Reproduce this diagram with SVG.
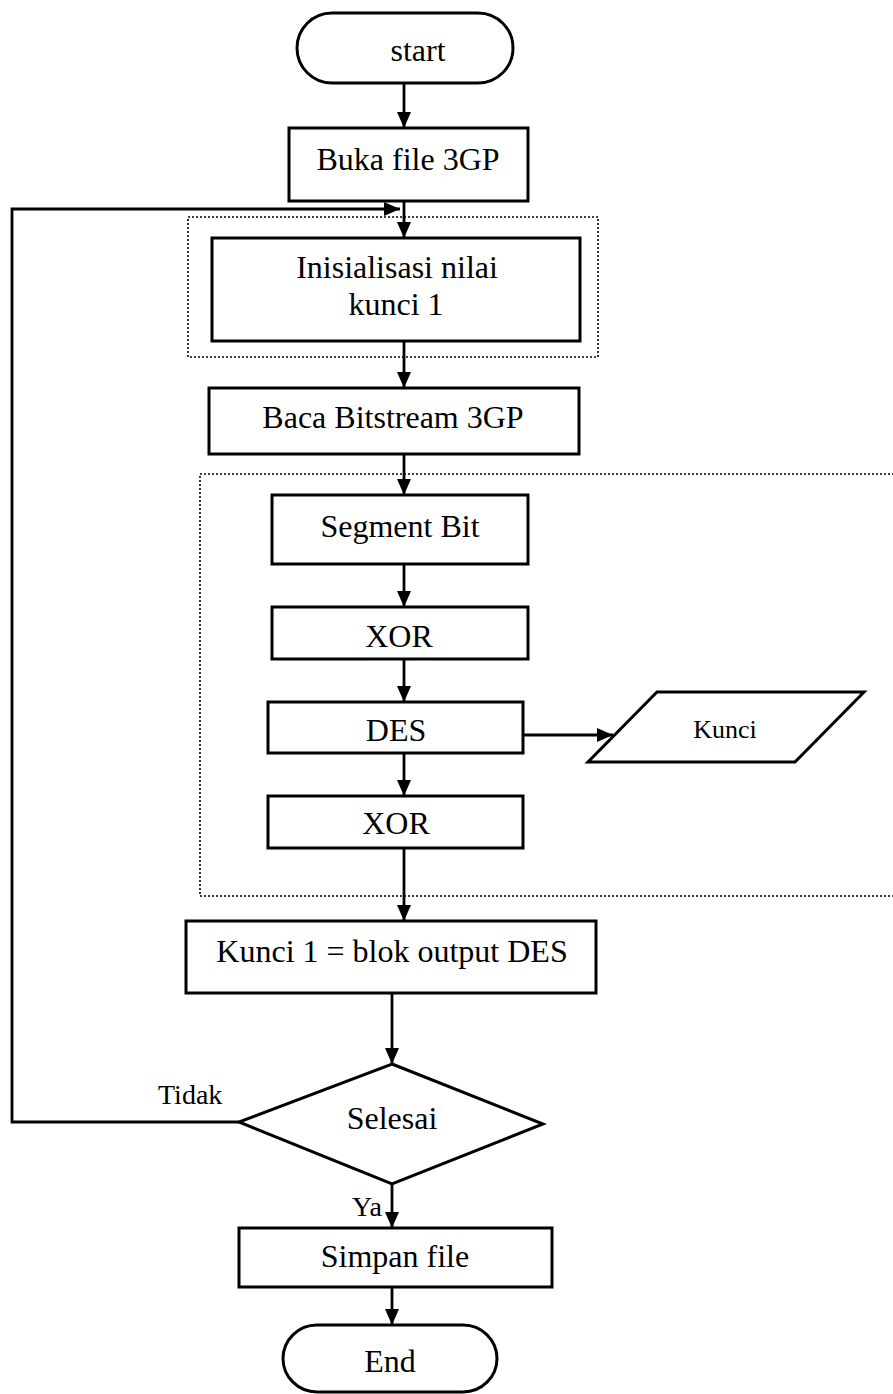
<svg xmlns="http://www.w3.org/2000/svg" width="893" height="1394" viewBox="0 0 893 1394">
<style>
.shape{fill:#fff;stroke:#000;stroke-width:3}
.dot{fill:none;stroke:#000;stroke-width:1.6;stroke-dasharray:2 2}
.con{fill:none;stroke:#000;stroke-width:2.8}
text{font-family:"Liberation Serif","Times New Roman",serif;font-size:32px;fill:#000}
.c{text-anchor:middle}
</style>
<defs>
<marker id="ah" viewBox="0 0 16 14" refX="16" refY="7" markerWidth="16" markerHeight="14" markerUnits="userSpaceOnUse" orient="auto">
<path d="M0,0 L16,7 L0,14 z" fill="#000"/>
</marker>
</defs>
<rect width="893" height="1394" fill="#fff"/>
<g id="groups">
<rect class="dot" x="188" y="217" width="410" height="140"/>
<rect class="dot" x="200" y="474" width="710" height="422"/>
</g>
<g id="connectors">
<path class="con" d="M404,83 V128" marker-end="url(#ah)"/>
<path class="con" d="M404,201 V238" marker-end="url(#ah)"/>
<path class="con" d="M239,1122 H12 V209 H400" marker-end="url(#ah)"/>
<path class="con" d="M404,341 V388" marker-end="url(#ah)"/>
<path class="con" d="M404,454 V495" marker-end="url(#ah)"/>
<path class="con" d="M404,564 V607" marker-end="url(#ah)"/>
<path class="con" d="M404,659 V702" marker-end="url(#ah)"/>
<path class="con" d="M404,753 V796" marker-end="url(#ah)"/>
<path class="con" d="M524,735 H613" marker-end="url(#ah)"/>
<path class="con" d="M404,848 V921" marker-end="url(#ah)"/>
<path class="con" d="M392,993 V1064" marker-end="url(#ah)"/>
<path class="con" d="M392,1184 V1228" marker-end="url(#ah)"/>
<path class="con" d="M392,1287 V1325" marker-end="url(#ah)"/>
</g>
<g id="start">
<rect class="shape" x="297" y="13" width="216" height="70" rx="35" ry="35"/>
<text class="c" x="418" y="61">start</text>
</g>
<g id="buka">
<rect class="shape" x="289" y="128" width="239" height="73"/>
<text class="c" x="408" y="170">Buka file 3GP</text>
</g>
<g id="inisialisasi">
<rect class="shape" x="212" y="238" width="368" height="103"/>
<text class="c" x="397" y="278">Inisialisasi nilai</text>
<text class="c" x="396" y="315">kunci 1</text>
</g>
<g id="baca">
<rect class="shape" x="209" y="388" width="370" height="66"/>
<text class="c" x="393" y="428">Baca Bitstream 3GP</text>
</g>
<g id="segment">
<rect class="shape" x="272" y="495" width="256" height="69"/>
<text class="c" x="400" y="537">Segment Bit</text>
</g>
<g id="xor1">
<rect class="shape" x="272" y="607" width="256" height="52"/>
<text class="c" x="399" y="647">XOR</text>
</g>
<g id="des">
<rect class="shape" x="268" y="702" width="255" height="51"/>
<text class="c" x="396" y="741">DES</text>
</g>
<g id="kunci">
<polygon class="shape" points="657,692 864,692 795,762 588,762"/>
<text class="c" x="725" y="738" style="font-size:26px">Kunci</text>
</g>
<g id="xor2">
<rect class="shape" x="268" y="796" width="255" height="52"/>
<text class="c" x="396" y="834">XOR</text>
</g>
<g id="kunci1">
<rect class="shape" x="186" y="921" width="410" height="72"/>
<text class="c" x="392" y="962">Kunci 1 = blok output DES</text>
</g>
<g id="selesai">
<polygon class="shape" points="392,1064 543,1124 392,1184 239,1122"/>
<text class="c" x="392" y="1129">Selesai</text>
</g>
<g id="labels">
<text x="158" y="1104" style="font-size:28px">Tidak</text>
<text x="352" y="1216" style="font-size:28px">Ya</text>
</g>
<g id="simpan">
<rect class="shape" x="239" y="1228" width="313" height="59"/>
<text class="c" x="395" y="1267">Simpan file</text>
</g>
<g id="end">
<rect class="shape" x="283" y="1325" width="214" height="67" rx="34" ry="34"/>
<text class="c" x="390" y="1372">End</text>
</g>
</svg>
